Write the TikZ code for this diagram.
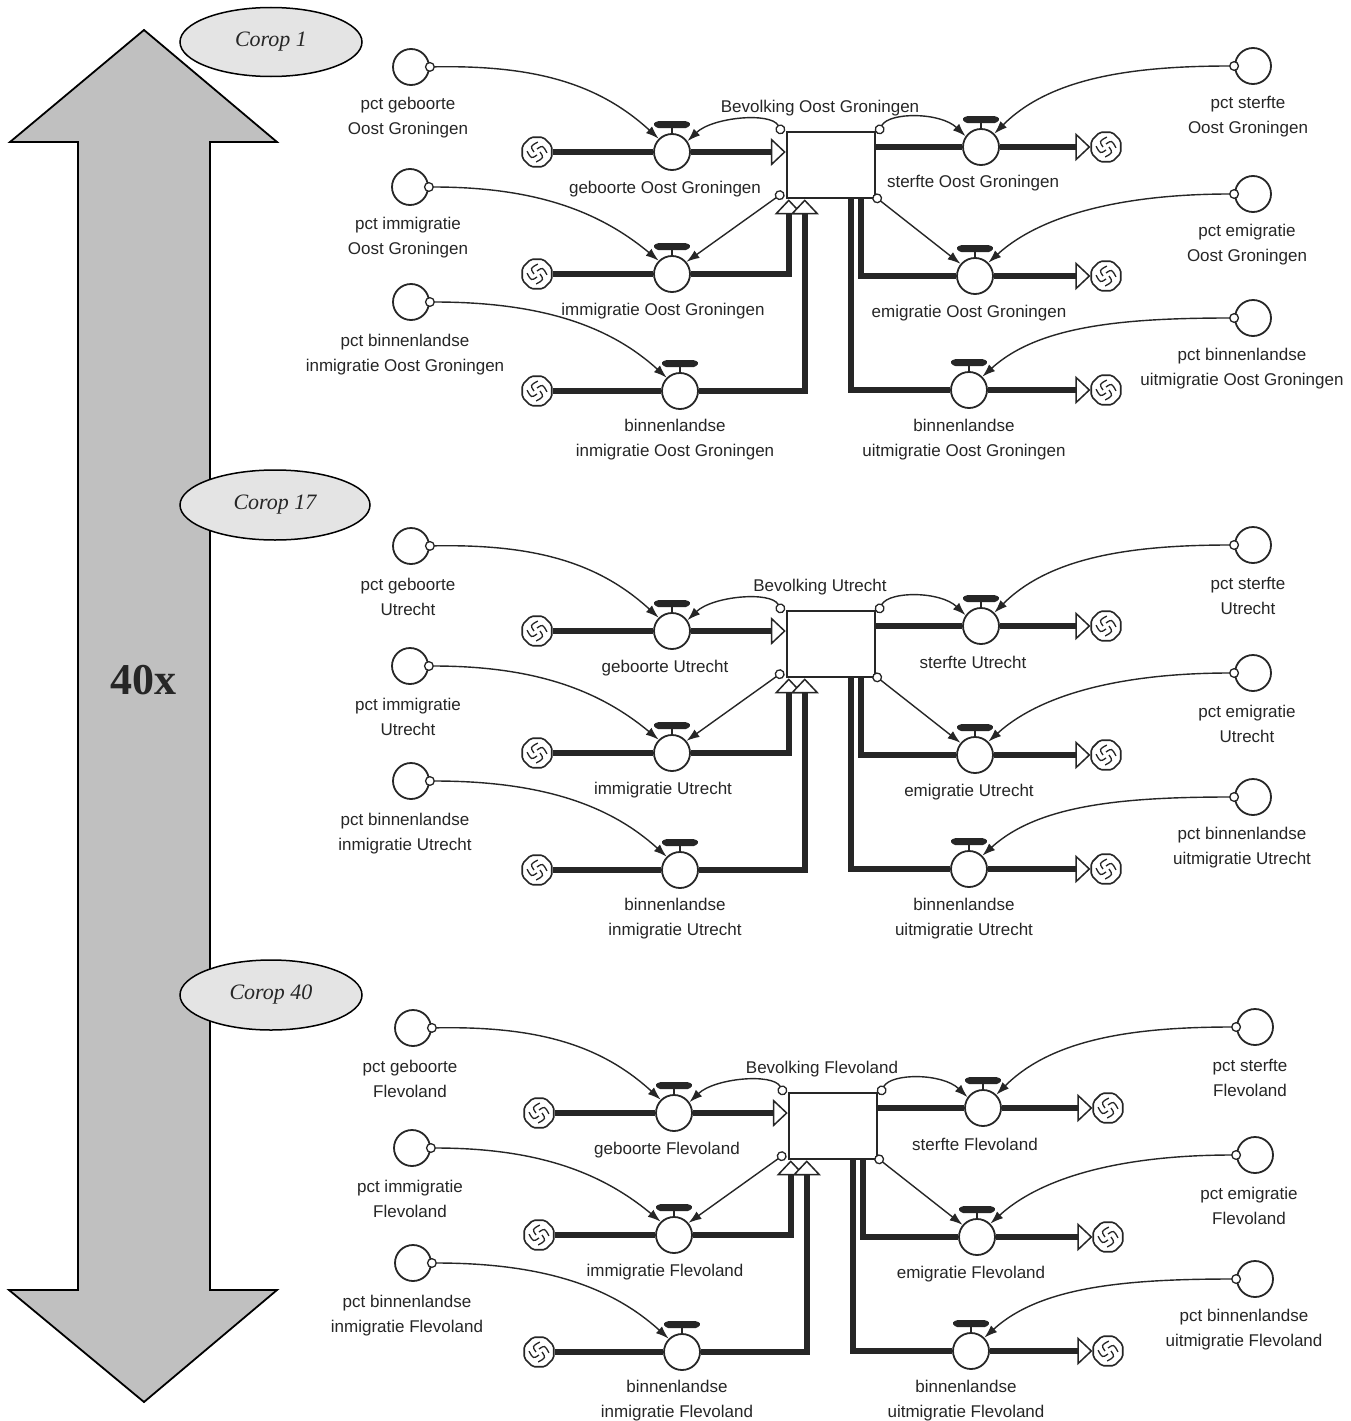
\documentclass[tikz,border=0pt]{standalone}
\usepackage{fontspec}
\setmainfont{Liberation Sans}
\newfontfamily\timesfont{Liberation Serif}
\usetikzlibrary{shapes.geometric,arrows.meta,calc}

\definecolor{ink}{RGB}{38,38,38}
\definecolor{arrowgray}{RGB}{192,192,192}
\definecolor{ellgray}{RGB}{228,228,228}

\tikzset{
  lbl/.style={font=\fontsize{17}{25}\selectfont, align=center, text=ink, inner sep=0pt},
  stockbox/.style={draw=ink, line width=2.5pt, minimum width=88pt, minimum height=66pt, inner sep=0pt, fill=white},
  valve/.style={circle, draw=ink, line width=1.8pt, minimum size=36pt, inner sep=0pt, fill=white},
  aux/.style={circle, draw=ink, line width=1.8pt, minimum size=36pt, inner sep=0pt, fill=white},
  cloudnode/.style={regular polygon, regular polygon sides=8, draw=ink, line width=1.6pt,
    minimum size=32pt, inner sep=0pt, fill=white, rounded corners=2pt,
    path picture={\begin{scope}[shift={(path picture bounding box.center)}]
      \foreach \a in {0,90,180,270}{\draw[line width=1.3pt, draw=ink, sharp corners]
        (\a:3) .. controls (\a+40:9) .. (\a+95:10);}
      \end{scope}}},
  pipe/.style={draw=ink, line width=6pt},
  flowhead/.style={-{Triangle[fill=white, length=15pt, width=28pt, line width=1.5pt]}},
  conn/.style={draw=ink, line width=1.4pt,
    {Circle[open, fill=white, length=10pt, width=10pt, line width=1.3pt]}-{Latex[length=13pt, width=9pt]}},
  bar/.style={fill=ink, rounded corners=1.5pt},
  corop/.style={ellipse, draw=black, line width=1.5pt, fill=ellgray, inner sep=0pt,
    font=\timesfont\itshape\fontsize{22}{26}\selectfont, text=ink},
}

\newcommand\sdblock[4]{%
\begin{scope}[shift={(#1,#2)}]
  % stock
  \node[stockbox] (#4S) at (831,165) {};
  \node[lbl] (#4SL) at (820,108) {Bevolking #3};
  % clouds
  \node[cloudnode] (#4C1) at (537,152) {};
  \node[cloudnode] (#4C2) at (537,274) {};
  \node[cloudnode] (#4C3) at (537,391) {};
  \node[cloudnode] (#4C4) at (1106,147) {};
  \node[cloudnode] (#4C5) at (1106,276) {};
  \node[cloudnode] (#4C6) at (1106,390) {};
  % valves
  \node[valve] (#4V1) at (672,152) {};
  \node[valve] (#4V2) at (672,274) {};
  \node[valve] (#4V3) at (680,391) {};
  \node[valve] (#4V4) at (981,147) {};
  \node[valve] (#4V5) at (975,276) {};
  \node[valve] (#4V6) at (969,390) {};
  \foreach \v in {1,...,6}{
    \fill[bar] ([xshift=-19pt,yshift=9pt]#4V\v.north) -- ([xshift=-15pt,yshift=5pt]#4V\v.north)
      -- ([xshift=15pt,yshift=5pt]#4V\v.north) -- ([xshift=19pt,yshift=9pt]#4V\v.north)
      -- ([xshift=15pt,yshift=12pt]#4V\v.north) -- ([xshift=-15pt,yshift=12pt]#4V\v.north) -- cycle;
    \draw[draw=ink, line width=1.5pt] (#4V\v.north) -- ([yshift=6pt]#4V\v.north);
  }
  % auxiliaries
  \node[aux] (#4A1) at (411,67) {};
  \node[aux] (#4A2) at (410,187) {};
  \node[aux] (#4A3) at (411,302) {};
  \node[aux] (#4A4) at (1253,66) {};
  \node[aux] (#4A5) at (1253,194) {};
  \node[aux] (#4A6) at (1253,318) {};
  % labels
  \node[lbl] (#4LA1) at (408,118) {pct geboorte\\#3};
  \node[lbl] (#4LA2) at (408,238) {pct immigratie\\#3};
  \node[lbl] (#4LA3) at (405,355) {pct binnenlandse\\inmigratie #3};
  \node[lbl] (#4LV1) at (665,189) {geboorte #3};
  \node[lbl] (#4LV2) at (663,311) {immigratie #3};
  \node[lbl] (#4LV3) at (675,440) {binnenlandse\\inmigratie #3};
  \node[lbl] (#4LV4) at (973,183) {sterfte #3};
  \node[lbl] (#4LV5) at (969,313) {emigratie #3};
  \node[lbl] (#4LV6) at (964,440) {binnenlandse\\uitmigratie #3};
  \node[lbl] (#4LA4) at (1248,117) {pct sterfte\\#3};
  \node[lbl] (#4LA5) at (1247,245) {pct emigratie\\#3};
  \node[lbl] (#4LA6) at (1242,369) {pct binnenlandse\\uitmigratie #3};
  % pipes (inflows)
  \draw[pipe] (#4C1) -- (#4V1);
  \draw[pipe, flowhead] (#4V1) -- (#4V1 -| #4S.west);
  \draw[pipe] (#4C2) -- (#4V2);
  \draw[pipe, flowhead] (#4V2.east) -| ([xshift=3pt]#4S.south west);
  \draw[pipe] (#4C3) -- (#4V3);
  \draw[pipe, flowhead] (#4V3.east) -| ([xshift=19pt]#4S.south west);
  % pipes (outflows)
  \draw[pipe] (#4S.east |- #4V4) -- (#4V4);
  \draw[pipe, flowhead] (#4V4) -- (#4C4);
  \draw[pipe] ([xshift=-15pt]#4S.south east) |- (#4V5.west);
  \draw[pipe, flowhead] (#4V5) -- (#4C5);
  \draw[pipe] ([xshift=-25pt]#4S.south east) |- (#4V6.west);
  \draw[pipe, flowhead] (#4V6) -- (#4C6);
  % connectors
  \draw[conn] ([xshift=-5pt]#4A1.east) .. controls +(110,-2) and +(-60,-55) .. (#4V1.135);
  \draw[conn] ([xshift=-5pt]#4A2.east) .. controls +(110,0) and +(-60,-50) .. (#4V2.135);
  \draw[conn] ([xshift=-5pt]#4A3.east) .. controls +(120,0) and +(-55,-50) .. (#4V3.135);
  \draw[conn] ([xshift=5pt]#4A4.west) .. controls +(-110,0) and +(55,-55) .. (#4V4.45);
  \draw[conn] ([xshift=5pt]#4A5.west) .. controls +(-110,0) and +(55,-50) .. (#4V5.45);
  \draw[conn] ([xshift=5pt]#4A6.west) .. controls +(-120,0) and +(55,-50) .. (#4V6.45);
  \draw[conn] ([xshift=-3pt,yshift=-3pt]#4S.north west) .. controls +(-12,-22) and +(25,-24) .. (#4V1.35);
  \draw[conn] ([xshift=1pt,yshift=-3pt]#4S.north east) .. controls +(12,-22) and +(-25,-24) .. (#4V4.145);
  \draw[conn] ([xshift=-2pt,yshift=7pt]#4S.south west) -- (#4V2.40);
  \draw[conn] ([xshift=-3pt,yshift=4pt]#4S.south east) -- (#4V5.140);
\end{scope}}

\begin{document}
\begin{tikzpicture}[x=1pt, y=-1pt]
  \useasboundingbox[fill=white] (0,0) rectangle (1351,1421);
  % big double arrow
  \draw[line width=1.8pt, fill=arrowgray, line join=miter]
    (144,30) -- (277,142) -- (210,142) -- (210,1290) -- (277,1290) -- (144,1402)
    -- (9,1290) -- (78,1290) -- (78,142) -- (10,142) -- cycle;
  \node[font=\timesfont\bfseries\fontsize{44}{48}\selectfont, text=ink] (times) at (143,680) {40x};
  % corop ellipses
  \node[corop, minimum width=182pt, minimum height=69pt] (e1) at (271,42) {Corop 1};
  \node[corop, minimum width=190pt, minimum height=70pt] (e17) at (275,505) {Corop 17};
  \node[corop, minimum width=182pt, minimum height=70pt] (e40) at (271,995) {Corop 40};
  % blocks
  \sdblock{0}{0}{Oost Groningen}{a}
  \sdblock{0}{479}{Utrecht}{b}
  \sdblock{2}{961}{Flevoland}{c}
\end{tikzpicture}
\end{document}
